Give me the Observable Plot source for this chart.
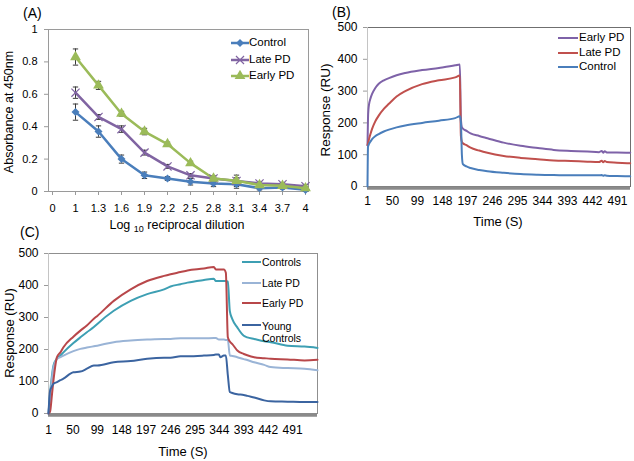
<!DOCTYPE html>
<html><head><meta charset="utf-8">
<script src="https://cdn.jsdelivr.net/npm/d3@7"></script>
<script src="https://cdn.jsdelivr.net/npm/@observablehq/plot@0.6"></script>
<style>
body{margin:0;background:#fff;}
#fig{position:relative;width:634px;height:461px;overflow:hidden;font-family:"Liberation Sans",Arial,sans-serif;color:#000;background:#fff;}
#fig svg{position:absolute;}
.lbl{position:absolute;white-space:nowrap;line-height:1;}
.rot{transform:translate(-50%,-50%) rotate(-90deg);}
.ctr{transform:translate(-50%,-50%);}
</style></head><body><div id="fig"></div>
<script>
// ---------- Panel A: ELISA ----------
const dilutionLabels = ["0","1","1.3","1.6","1.9","2.2","2.5","2.8","3.1","3.4","3.7","4"];
const dilutions = ["1","1.3","1.6","1.9","2.2","2.5","2.8","3.1","3.4","3.7","4"];
const elisaControl    = [0.49, 0.37, 0.20, 0.10, 0.08, 0.06, 0.05, 0.045, 0.02, 0.025, 0.01];
const elisaControlErr = [0.05, 0.035, 0.025, 0.02, 0.012, 0.02, 0.02, 0.025, 0.01, 0.01, 0.01];
const elisaLatePD     = [0.61, 0.46, 0.385, 0.24, 0.155, 0.10, 0.08, 0.065, 0.05, 0.045, 0.033];
const elisaLatePDErr  = [0.035, 0.015, 0.02, 0.015, 0.012, 0.01, 0.015, 0.02, 0.01, 0.01, 0.01];
const elisaEarlyPD    = [0.83, 0.655, 0.48, 0.37, 0.293, 0.175, 0.08, 0.066, 0.04, 0.035, 0.02];
const elisaEarlyPDErr = [0.05, 0.025, 0.015, 0.02, 0.012, 0.012, 0.015, 0.035, 0.01, 0.01, 0.01];
const seriesNamesA = ["Control", "Late PD", "Early PD"];

// ---------- Panel B: SPR ----------
const timeB = [1, 2, 3, 4, 7, 10, 16, 23, 33, 43, 58, 75, 108, 141, 173, 182, 184, 186, 188, 195, 203, 220, 236, 268, 301, 335, 366, 400, 432, 455, 460, 463, 466, 470, 490, 516];
const sprB_EarlyPD = [130, 215, 245, 258, 278, 291, 309, 323, 334, 341, 350, 357, 366, 373, 381, 384, 215, 186, 182, 175, 167, 159, 152, 138, 128, 121, 115, 112, 110, 108, 112, 106, 111, 107, 107, 106];
const sprB_LatePD  = [130, 136, 142, 149, 166, 181, 204, 223, 244, 260, 283, 300, 322, 334, 343, 349, 160, 140, 136, 130, 122, 113, 106, 96, 90, 86, 82, 80, 78, 77, 81, 76, 80, 77, 75, 73];
const sprB_Control = [0, 125, 130, 134, 142, 149, 158, 165, 173, 179, 186, 192, 200, 207, 215, 221, 205, 100, 70, 63, 58, 52, 48, 43, 39, 37, 36, 35, 35, 35, 36, 34, 35, 34, 33, 32];
const seriesNamesB = ["Early PD", "Late PD", "Control"];
const timeTicks = [1, 50, 99, 148, 197, 246, 295, 344, 393, 442, 491];

// ---------- Panel C: SPR ----------
const timeC = [1, 4, 8, 11, 18, 25, 31, 51, 65, 78, 92, 99, 132, 166, 199, 233, 246, 266, 280, 313, 333, 337, 343, 346, 353, 357, 361, 365, 370, 380, 393, 400, 414, 434, 447, 481, 515, 541];
const sprC_Controls      = [0, 60, 120, 150, 172, 181, 191, 220, 238, 254, 270, 280, 321, 352, 373, 388, 397, 404, 409, 417, 421, 414, 414, 414, 414, 414, 412, 320, 295, 269, 243, 238, 233, 226, 223, 212, 209, 205];
const sprC_LatePD        = [0, 50, 110, 145, 170, 176, 181, 195, 202, 206, 210, 212, 223, 228, 231, 233, 233, 235, 235, 235, 236, 236, 231, 231, 231, 230, 230, 181, 180, 176, 170, 167, 160, 152, 145, 142, 140, 135];
const sprC_EarlyPD       = [0, 5, 60, 104, 176, 191, 207, 240, 259, 275, 296, 305, 352, 388, 414, 430, 435, 442, 447, 453, 458, 450, 450, 450, 450, 440, 238, 225, 217, 197, 186, 182, 176, 173, 171, 169, 166, 168];
const sprC_YoungControls = [0, 70, 85, 93, 98, 104, 109, 129, 131, 140, 150, 150, 160, 164, 171, 174, 174, 179, 179, 181, 183, 184, 184, 176, 181, 181, 120, 67, 64, 60, 58, 55, 50, 41, 38, 37, 36, 36];
const seriesNamesC = ["Controls", "Late PD", "Early PD", "Young Controls"];

// ---------- styles ----------
const colorA = {"Control": "#4a7ebb", "Late PD": "#8064a2", "Early PD": "#9bbb59"};
const colorB = {"Early PD": "#7e62a8", "Late PD": "#c0504d", "Control": "#4a7ebb"};
const colorC = {"Controls": "#3d9fb3", "Late PD": "#9ab4d6", "Early PD": "#b8474a", "Young Controls": "#3b64a0"};
const FONT = '"Liberation Sans", Arial, sans-serif';

const fig = document.getElementById("fig");
function place(svg, left, top) { svg.style.left = left + "px"; svg.style.top = top + "px"; fig.appendChild(svg); }
function label(html, x, y, size, cls) {
  const d = document.createElement("div");
  d.className = "lbl " + (cls || "");
  d.style.left = x + "px"; d.style.top = y + "px"; d.style.fontSize = size + "px";
  d.innerHTML = html; fig.appendChild(d);
  return d;
}

// ---------- Panel A ----------
const seriesA = [
  {name: seriesNamesA[0], values: elisaControl, errors: elisaControlErr},
  {name: seriesNamesA[1], values: elisaLatePD, errors: elisaLatePDErr},
  {name: seriesNamesA[2], values: elisaEarlyPD, errors: elisaEarlyPDErr}
];
const rowsA = seriesA.flatMap(s => dilutions.map((d, i) => ({series: s.name, dil: d, value: s.values[i], err: s.errors[i]})));
const capSymbol = {draw(ctx, size) { const w = Math.sqrt(size) / 2; ctx.moveTo(-w, 0); ctx.lineTo(w, 0); }};
const errColor = "#3a3a3a";
const plotA = Plot.plot({
  width: 318, height: 236, marginLeft: 48, marginTop: 29, marginRight: 10, marginBottom: 45,
  style: {fontFamily: FONT, fontSize: "11px", background: "transparent", color: "#000", overflow: "visible"},
  x: {type: "point", domain: dilutionLabels, padding: 0},
  y: {domain: [0, 1]},
  color: {type: "identity"},
  marks: [
    Plot.frame({stroke: "#9a9a9a"}),
    Plot.axisY({ticks: [0, 0.2, 0.4, 0.6, 0.8, 1], tickFormat: d => String(+d.toFixed(1)), tickSize: 4, tickPadding: 7, stroke: "#9a9a9a", label: null}),
    Plot.axisX({tickSize: 4, tickPadding: 9, stroke: "#9a9a9a", label: null}),
    Plot.ruleX(rowsA, {x: "dil", y1: d => d.value - d.err, y2: d => d.value + d.err, stroke: errColor, strokeWidth: 1}),
    Plot.dot(rowsA, {x: "dil", y: d => d.value + d.err, symbol: capSymbol, r: 3, stroke: errColor, fill: "none", strokeWidth: 1}),
    Plot.dot(rowsA, {x: "dil", y: d => d.value - d.err, symbol: capSymbol, r: 3, stroke: errColor, fill: "none", strokeWidth: 1}),
    Plot.lineY(rowsA, {x: "dil", y: "value", z: "series", stroke: d => colorA[d.series], strokeWidth: 2.5}),
    Plot.dot(rowsA.filter(d => d.series === "Control"), {x: "dil", y: "value", symbol: "diamond2", r: 3.6, fill: colorA["Control"], stroke: "none"}),
    Plot.dot(rowsA.filter(d => d.series === "Late PD"), {x: "dil", y: "value", symbol: "times", r: 3.8, stroke: colorA["Late PD"], fill: "none", strokeWidth: 1.2}),
    Plot.dot(rowsA.filter(d => d.series === "Early PD"), {x: "dil", y: "value", symbol: "triangle", r: 4, fill: colorA["Early PD"], stroke: "none"})
  ]
});
place(plotA, 0, 0);

// ---------- Panel B ----------
const seriesB = [
  {name: seriesNamesB[0], values: sprB_EarlyPD},
  {name: seriesNamesB[1], values: sprB_LatePD},
  {name: seriesNamesB[2], values: sprB_Control}
];
const rowsB = seriesB.flatMap(s => timeB.map((t, i) => ({series: s.name, t, v: s.values[i]})));
const plotB = Plot.plot({
  width: 314, height: 230, marginLeft: 47, marginTop: 27, marginRight: 4, marginBottom: 44,
  style: {fontFamily: FONT, fontSize: "12px", background: "transparent", color: "#000", overflow: "visible"},
  x: {domain: [1, 516.5]},
  y: {domain: [0, 500]},
  color: {type: "identity"},
  marks: [
    Plot.frame({stroke: "#6f6f6f"}),
    Plot.ruleX([1], {stroke: "#c4c4c4"}),
    Plot.axisY({ticks: [0, 100, 200, 300, 400, 500], tickSize: 4, tickPadding: 6, stroke: "#9a9a9a", label: null}),
    Plot.axisX({ticks: timeTicks, tickSize: 0, tickPadding: 10, label: null}),
    Plot.ruleY([0], {stroke: "#8a8a8a", strokeWidth: 3.5, dy: 1.5}),
    Plot.line(rowsB, {x: "t", y: "v", z: "series", stroke: d => colorB[d.series], strokeWidth: 2, curve: "monotone-x"})
  ]
});
place(plotB, 320, 0);

// ---------- Panel C ----------
const seriesC = [
  {name: seriesNamesC[0], values: sprC_Controls},
  {name: seriesNamesC[1], values: sprC_LatePD},
  {name: seriesNamesC[2], values: sprC_EarlyPD},
  {name: seriesNamesC[3], values: sprC_YoungControls}
];
const rowsC = seriesC.flatMap(s => timeC.map((t, i) => ({series: s.name, t, v: s.values[i]})));
const plotC = Plot.plot({
  width: 330, height: 220, marginLeft: 48, marginTop: 13, marginRight: 13, marginBottom: 47,
  style: {fontFamily: FONT, fontSize: "12px", background: "transparent", color: "#000", overflow: "visible"},
  x: {domain: [1, 541]},
  y: {domain: [0, 500]},
  color: {type: "identity"},
  marks: [
    Plot.frame({stroke: "#8f8f8f"}),
    Plot.ruleX([1], {stroke: "#c4c4c4"}),
    Plot.axisY({ticks: [0, 100, 200, 300, 400, 500], tickSize: 4, tickPadding: 6, stroke: "#9a9a9a", label: null}),
    Plot.axisX({ticks: timeTicks, tickSize: 0, tickPadding: 12, label: null}),
    Plot.ruleY([0], {stroke: "#8a8a8a", strokeWidth: 3.5, dy: 1.5}),
    Plot.line(rowsC, {x: "t", y: "v", z: "series", stroke: d => colorC[d.series], strokeWidth: 2, curve: "monotone-x"})
  ]
});
place(plotC, 0, 240);

// ---------- text labels ----------
label("(A)", 23, 6, 14);
label("Absorbance at 450nm", 9, 112, 12.5, "rot");
label('Log <span style="font-size:9px;vertical-align:-3px">10</span> reciprocal dilution', 177, 226, 12.5, "ctr");
label("(B)", 332, 5, 14);
label("Response (RU)", 326, 110, 13.5, "rot");
label("Time (S)", 498, 221, 13, "ctr");
label("(C)", 20, 225, 14);
label("Response (RU)", 9, 333, 13, "rot");
label("Time (S)", 183, 451, 13, "ctr");

// ---------- legends ----------
function legend(items, x0, lineW, ys, markerFor, colors, lw) {
  items.forEach((name, i) => {
    const y = ys[i];
    const sw = document.createElementNS("http://www.w3.org/2000/svg", "svg");
    sw.setAttribute("width", lineW + 4); sw.setAttribute("height", 12);
    sw.style.left = (x0 - 2) + "px"; sw.style.top = (y - 6) + "px";
    let inner = `<line x1="2" x2="${lineW + 2}" y1="6" y2="6" stroke="${colors[name]}" stroke-width="${lw}"/>`;
    if (markerFor) inner += markerFor(name, lineW / 2 + 2, 6);
    sw.innerHTML = inner;
    fig.appendChild(sw);
  });
}
const markerA = (name, cx, cy) => {
  const c = colorA[name];
  if (name === "Control") return `<path transform="translate(${cx},${cy})" d="${d3.symbol(d3.symbolDiamond2, 40)()}" fill="${c}"/>`;
  if (name === "Late PD") return `<path transform="translate(${cx},${cy})" d="${d3.symbol(d3.symbolTimes, 44)()}" fill="none" stroke="${c}" stroke-width="1.2"/>`;
  return `<path transform="translate(${cx},${cy})" d="${d3.symbol(d3.symbolTriangle, 50)()}" fill="${c}"/>`;
};
const legYA = [43, 60, 76];
legend(seriesNamesA, 231, 18, legYA, markerA, colorA, 2.5);
seriesNamesA.forEach((n, i) => label(n, 249, legYA[i] - 6, 11.5));

const legYB = [38, 52.5, 67];
legend(seriesNamesB, 558, 20, legYB, null, colorB, 2);
seriesNamesB.forEach((n, i) => label(n, 579, legYB[i] - 6, 11.5));

const legYC = [262, 283, 303, 325];
legend(seriesNamesC, 242, 19, legYC, null, colorC, 2);
label("Controls", 262, legYC[0] - 5.5, 10.5);
label("Late PD", 262, legYC[1] - 5.5, 10.5);
label("Early PD", 262, legYC[2] - 5.5, 10.5);
const yc = label("Young<br>Controls", 262, legYC[3] - 5.5, 10.5);
yc.style.lineHeight = "12px";
</script>
</body></html>
